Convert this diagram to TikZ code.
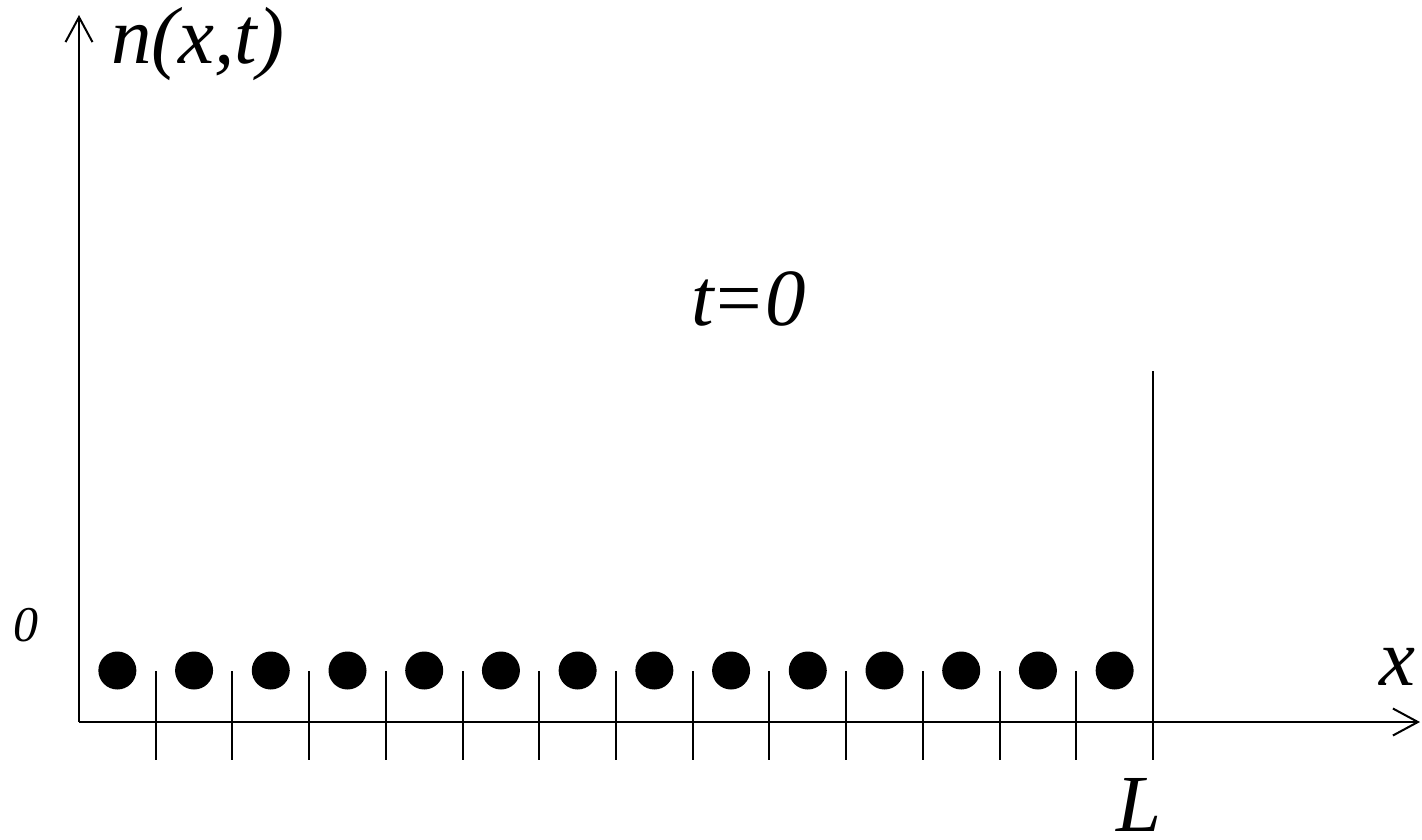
\documentclass[tikz,border=0pt]{standalone}
\usepackage{fontspec}
\setmainfont{Liberation Serif}
\usetikzlibrary{arrows.meta}
\begin{document}
\begin{tikzpicture}[x=1pt,y=1pt,
  ax/.style={line width=2pt,-{Straight Barb[length=25pt,width=27pt,line width=2pt]}},
  ln/.style={line width=2pt},
  dotc/.style={circle,fill=black,minimum size=38pt,inner sep=0pt},
  big/.style={inner sep=0pt,font=\fontsize{81}{92}\selectfont\itshape},
  small/.style={inner sep=0pt,font=\fontsize{50}{60}\selectfont\itshape}]
\useasboundingbox (0,0) rectangle (1422,-839);
\coordinate (O) at (79,-722);
\coordinate (ytip) at (79,-15);
\coordinate (xtip) at (1420,-722);
\draw[ax] (O) -- (ytip);
\draw[ax] (O) -- (xtip);
\foreach \k in {1,...,13}{
  \coordinate (tt\k) at ({79+76.714*\k},-671);
  \coordinate (tb\k) at ({79+76.714*\k},-760);
  \draw[ln] (tt\k) -- (tb\k);
}
\coordinate (Ltop) at (1153,-371);
\coordinate (Lbot) at (1153,-760);
\draw[ln] (Ltop) -- (Lbot);
\foreach \k in {1,...,14}{
  \node[dotc] (d\k) at ({79+76.714*(\k-0.5)},-670.5) {};
}
\node[big,anchor=base west] (nlab) at (111,-63) {n(x,t)};
\node[big,anchor=base west] (tlab) at (691,-325) {t\kern3pt{\upshape =}\kern3pt0};
\node[small,anchor=base west] (zlab) at (13,-641) {0};
\node[big,anchor=base west] (xlab) at (1379,-685) {x};
\node[big,anchor=base west] (llab) at (1116,-831) {L};
\end{tikzpicture}
\end{document}
